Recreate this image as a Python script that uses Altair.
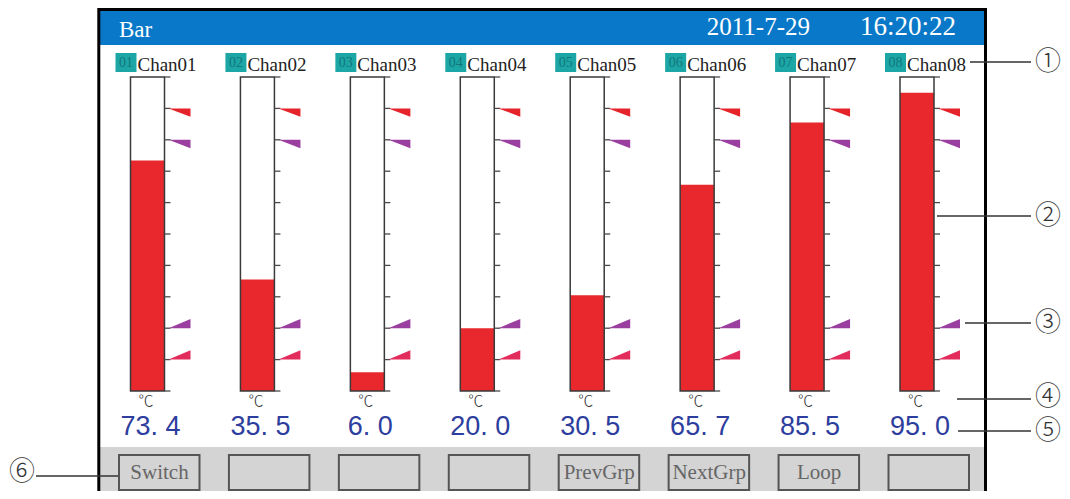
import altair as alt
import pandas as pd

# ---------------- data ----------------
chan_ids = ["01", "02", "03", "04", "05", "06", "07", "08"]
chan_names = ["Chan01", "Chan02", "Chan03", "Chan04", "Chan05", "Chan06", "Chan07", "Chan08"]
chan_values = [73.4, 35.5, 6.0, 20.0, 30.5, 65.7, 85.5, 95.0]
unit_label = "℃"
scale_range = [0, 100]
tick_step = 10
alarm_types = ["HH", "H", "L", "LL"]
alarm_levels = [90, 80, 20, 10]
button_labels = ["Switch", "", "", "", "PrevGrp", "NextGrp", "Loop", ""]
screen_title = "Bar"
screen_date = "2011-7-29"
screen_time = "16:20:22"
callout_marks = ["①", "②", "③", "④", "⑤", "⑥"]

idx = list(range(len(chan_names)))
chan_df = pd.DataFrame({
    "idx": idx,
    "cid": chan_ids,
    "name": chan_names,
    "value": chan_values,
    "label": [f"{v:.1f}".replace(".", ". ") for v in chan_values],
    "lo": scale_range[0],
    "hi": scale_range[1],
})
tick_levels = list(range(scale_range[0], scale_range[1] + 1, tick_step))
tick_df = pd.DataFrame([{"idx": i, "level": t} for i in idx for t in tick_levels])
alarm_df = pd.DataFrame([{"idx": i, "level": l, "type": t}
                         for i in idx for t, l in zip(alarm_types, alarm_levels)])
button_df = pd.DataFrame({"idx": idx, "label": button_labels})
one = pd.DataFrame({"k": [0]})

# ---------------- scales ----------------
XS = alt.Scale(domain=[0, len(idx) - 1], range=[139.5, 909], nice=False, zero=False)
YS = alt.Scale(domain=scale_range, range=[383, 69], nice=False, zero=False)


def X():
    return alt.X("idx:Q", scale=XS, axis=None)


def X2():
    return alt.X2("idx:Q")


def Yf(field):
    return alt.Y(f"{field}:Q", scale=YS, axis=None)


def prect(x1, x2, y1, y2, **kw):
    return alt.Chart(one).mark_rect(**kw).encode(
        x=alt.value(x1), x2=alt.value(x2), y=alt.value(y1), y2=alt.value(y2))


def pline(x1, x2, y, **kw):
    return alt.Chart(one).mark_rule(**kw).encode(
        x=alt.value(x1), x2=alt.value(x2), y=alt.value(y))


def ptext(txt, x, y, **kw):
    return alt.Chart(one).mark_text(text=txt, **kw).encode(x=alt.value(x), y=alt.value(y))


layers = []

# screen chrome
layers.append(prect(92, 976, 3, 37, color="#0A78C8"))
layers.append(prect(92, 976, 439, 490, color="#D4D4D4"))
layers.append(ptext(screen_title, 111, 29, align="left", baseline="alphabetic",
                    font="Liberation Serif", fontSize=23, color="white"))
layers.append(ptext(screen_date, 802, 27, align="right", baseline="alphabetic",
                    font="Liberation Serif", fontSize=25, color="white"))
layers.append(ptext(screen_time, 948, 27, align="right", baseline="alphabetic",
                    font="Liberation Serif", fontSize=27, color="white"))

base = alt.Chart(chan_df)

# channel labels
layers.append(base.mark_rect(color="#1CA6A6", xOffset=-32, x2Offset=-11).encode(
    x=X(), x2=X2(), y=alt.value(45), y2=alt.value(64)))
layers.append(base.mark_text(font="Liberation Serif", fontSize=14, color="#12777A",
                             dx=-21.5, baseline="middle").encode(
    x=X(), y=alt.value(55), text="cid:N"))
layers.append(base.mark_text(font="Liberation Serif", fontSize=19, color="#222222",
                             align="left", dx=-10, baseline="alphabetic").encode(
    x=X(), y=alt.value(63), text="name:N"))

# bars
layers.append(base.mark_rect(color="#E8282C", xOffset=-17, x2Offset=17).encode(
    x=X(), x2=X2(), y=Yf("value"), y2="lo:Q"))
layers.append(base.mark_rect(fillOpacity=0, stroke="#3a3a3a", strokeWidth=1.5,
                             xOffset=-17, x2Offset=17).encode(
    x=X(), x2=X2(), y=Yf("hi"), y2="lo:Q"))

# scale ticks
layers.append(alt.Chart(tick_df).mark_rule(xOffset=17, x2Offset=23, color="#4a4a4a",
                                           strokeWidth=1.3).encode(
    x=X(), x2=X2(), y=Yf("level")))

# alarm markers
acolor = alt.Color("type:N", scale=alt.Scale(domain=alarm_types,
                   range=["#E5232B", "#9A3F9F", "#9A3F9F", "#E22C5C"]), legend=None)
layers.append(alt.Chart(alarm_df).transform_filter(
    alt.FieldOneOfPredicate(field="type", oneOf=["HH", "H"])).mark_point(
    shape="M0,0L1,0L1,0.38Z", size=1936, filled=True, opacity=1, strokeWidth=0,
    xOffset=21).encode(x=X(), y=Yf("level"), color=acolor))
layers.append(alt.Chart(alarm_df).transform_filter(
    alt.FieldOneOfPredicate(field="type", oneOf=["L", "LL"])).mark_point(
    shape="M0,0L1,-0.42L1,0Z", size=1936, filled=True, opacity=1, strokeWidth=0,
    xOffset=21).encode(x=X(), y=Yf("level"), color=acolor))

# unit and value
layers.append(base.mark_text(text=unit_label, font="Noto Sans CJK SC", fontSize=15,
                             fontWeight=300, color="#333333", dx=-1.5,
                             baseline="middle").encode(
    x=X(), y=alt.value(393)))
layers.append(base.mark_text(font="Liberation Sans", fontSize=27, color="#2D3E9E",
                             dx=3, baseline="alphabetic").encode(
    x=X(), y=alt.value(427), text="label:N"))

# buttons
layers.append(alt.Chart(button_df).mark_rect(fillOpacity=0, stroke="#555555", strokeWidth=2,
                                             xOffset=-28.5, x2Offset=52).encode(
    x=X(), x2=X2(), y=alt.value(447), y2=alt.value(482)))
layers.append(alt.Chart(button_df).mark_text(font="Liberation Serif", fontSize=21,
                                             color="#666666", dx=12, baseline="middle").encode(
    x=X(), y=alt.value(465), text="label:N"))

# frame
layers.append(prect(90.8, 977.5, 1.5, 495, fillOpacity=0, stroke="black", strokeWidth=3))

# callouts
lc = dict(color="#333333", strokeWidth=1.3)
layers.append(pline(962, 1023, 54, **lc))
layers.append(pline(929, 1023, 208, **lc))
layers.append(pline(957, 1023, 315, **lc))
layers.append(pline(949, 1023, 391, **lc))
layers.append(pline(950, 1023, 423, **lc))
layers.append(pline(28, 110, 468, **lc))
gk = dict(font="Noto Sans CJK SC", fontSize=26, fontWeight=300, color="#333333",
          baseline="middle")
for mark, (gx, gy) in zip(callout_marks, [(1040, 54), (1040, 208), (1040, 315),
                                          (1040, 389), (1040, 423), (14, 464)]):
    layers.append(ptext(mark, gx, gy, **gk))

chart = alt.layer(*layers).properties(
    width=1054, height=483, autosize=alt.AutoSizeParams(type="none"), padding=0,
    background="white").configure_view(strokeWidth=0)

chart.save("out.html", embed_options={"renderer": "svg", "actions": False})
